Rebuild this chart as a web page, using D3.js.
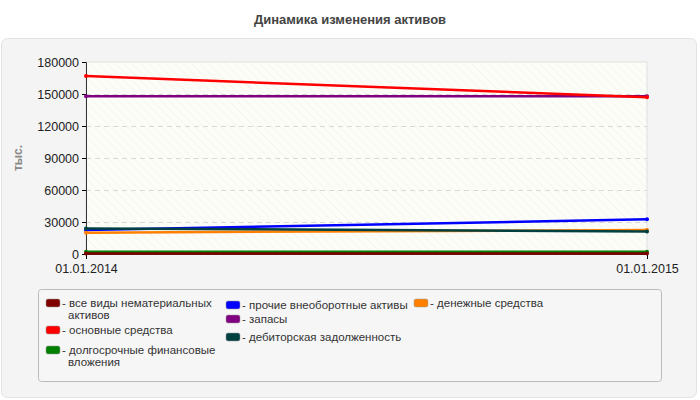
<!DOCTYPE html><html><head><meta charset="utf-8">
<script src="https://cdn.jsdelivr.net/npm/d3@7"></script>
<style>body{margin:0;background:#fff}svg{font-family:"Liberation Sans",Arial,sans-serif}</style></head><body>
<svg id="c" width="700" height="400"></svg>
<script>
const dates=["01.01.2014","01.01.2015"];
const seriesNames=["все виды нематериальных активов","основные средства","долгосрочные финансовые вложения","прочие внеоборотные активы","запасы","дебиторская задолженность","денежные средства"];
const seriesColors=["#800000","#ff0000","#008000","#0000ff","#800080","#004040","#ff8000"];
const nemat=[500,500];
const osn=[166800,147000];
const dolg=[2000,2000];
const proch=[22500,32500];
const zapasy=[148000,148000];
const debit=[24000,21000];
const den=[20000,22500];
const yTicks=[0,30000,60000,90000,120000,150000,180000];
const drawOrder=[3,6,5,4,1,2,0];
const allVals=[nemat,osn,dolg,proch,zapasy,debit,den];

const svg=d3.select("#c");
svg.append("text").attr("x",350).attr("y",24).attr("text-anchor","middle").attr("font-size",13).attr("font-weight","bold").attr("fill","#444").text("Динамика изменения активов");
svg.append("rect").attr("x",1.5).attr("y",38.5).attr("width",695).attr("height",359).attr("rx",6).attr("fill","#f4f4f4").attr("stroke","#e2e2e2");
const defs=svg.append("defs");
const p=defs.append("pattern").attr("id","h").attr("width",6).attr("height",6).attr("patternUnits","userSpaceOnUse").attr("patternTransform","rotate(-45)");
p.append("rect").attr("width",6).attr("height",6).attr("fill","#fdfdf8");
p.append("line").attr("x1",0).attr("y1",0).attr("x2",0).attr("y2",6).attr("stroke","#f0f0ea").attr("stroke-width",1);
const x0=86,x1=647,yT=62,yB=254;
const x=d3.scalePoint().domain(dates).range([x0,x1]);
const y=d3.scaleLinear().domain([0,180000]).range([yB,yT]);
svg.append("rect").attr("x",x0).attr("y",yT).attr("width",x1-x0).attr("height",yB-yT).attr("fill","url(#h)").attr("stroke","#e0e0e0");
svg.append("g").selectAll("line").data(yTicks.slice(1,-1)).join("line").attr("x1",x0).attr("x2",x1).attr("y1",d=>y(d)+.5).attr("y2",d=>y(d)+.5).attr("stroke","#d8d8d8").attr("stroke-dasharray","5,4");
const ya=svg.append("g").attr("transform",`translate(${x0},0)`).call(d3.axisLeft(y).tickValues(yTicks).tickSize(4).tickFormat(d3.format("d")));
ya.selectAll("text").attr("font-size",12.5).attr("fill","#222").attr("font-family","Liberation Sans, Arial");
ya.select(".domain").attr("stroke","#333");
const xa=svg.append("g").attr("transform",`translate(0,${yB})`).call(d3.axisBottom(x).tickSize(5).tickPadding(5));
xa.selectAll("text").attr("font-size",12.5).attr("fill","#222").attr("font-family","Liberation Sans, Arial");
xa.select(".domain").attr("stroke","#333");
svg.append("text").attr("transform","translate(22,158) rotate(-90)").attr("text-anchor","middle").attr("font-size",12).attr("font-weight","bold").attr("fill","#888").text("тыс.");
const line=d3.line().x((d,i)=>x(dates[i])).y(d=>y(d));
drawOrder.forEach(k=>{
  svg.append("path").attr("d",line(allVals[k])).attr("fill","none").attr("stroke",seriesColors[k]).attr("stroke-width",2.5);
  svg.append("g").selectAll("circle").data(allVals[k]).join("circle").attr("cx",(d,i)=>x(dates[i])).attr("cy",d=>y(d)).attr("r",2).attr("fill",seriesColors[k]);
});
svg.append("rect").attr("x",38.5).attr("y",289.5).attr("width",623).attr("height",92).attr("rx",3).attr("fill","#f6f6f6").attr("stroke","#bbb");
const leg=[[46,303,["все виды нематериальных","активов"]],[46,330,["основные средства"]],[46,350,["долгосрочные финансовые","вложения"]],[226,305,["прочие внеоборотные активы"]],[226,319,["запасы"]],[226,337,["дебиторская задолженность"]],[414,303,["денежные средства"]]];
leg.forEach((l,i)=>{
  const g=svg.append("g");
  g.append("rect").attr("x",l[0]).attr("y",l[1]-4).attr("width",14).attr("height",8).attr("rx",2).attr("fill",seriesColors[i]).attr("stroke","#999").attr("stroke-width",.5);
  const t=g.append("text").attr("font-size",11.5).attr("fill","#333");
  l[2].forEach((s,j)=>t.append("tspan").attr("x",j?l[0]+22:l[0]+16).attr("y",l[1]+4+j*11.5).text(j?s:"- "+s));
});
</script></body></html>
